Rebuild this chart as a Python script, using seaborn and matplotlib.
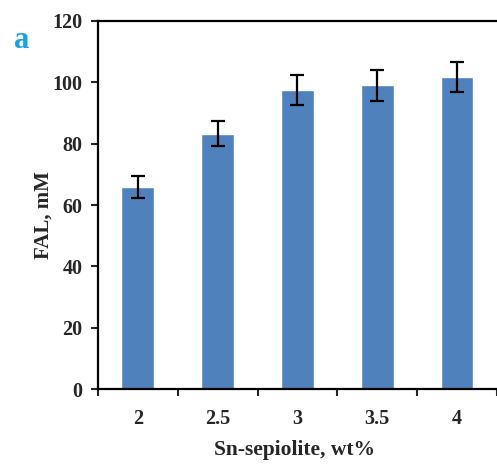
import matplotlib
matplotlib.use("Agg")
import matplotlib.pyplot as plt
import seaborn as sns
import pandas as pd

# Sn loading on sepiolite (wt%) and furfuryl alcohol yield (mM)
loadings = ["2", "2.5", "3", "3.5", "4"]
fal_mM = [65.8, 83.3, 97.5, 99.0, 101.7]
fal_err = [3.6, 4.1, 5.0, 5.0, 5.0]

sns.set_theme(style="white")
plt.rcParams["font.family"] = ["Liberation Serif", "DejaVu Serif"]
plt.rcParams["font.weight"] = "bold"

df = pd.DataFrame({"loading": loadings, "fal": fal_mM})

fig = plt.figure(figsize=(4.97, 4.66), dpi=100)
ax = fig.add_axes([0.197, 0.165, 0.803, 0.79])

sns.barplot(data=df, x="loading", y="fal", color="#4F81BD", saturation=1,
            width=0.41, errorbar=None, ax=ax)
ax.errorbar(range(len(loadings)), fal_mM, yerr=fal_err, fmt="none",
            ecolor="black", elinewidth=1.6, capsize=4.8, capthick=1.6)

ax.set_ylim(0, 120)
ax.set_xlim(-0.5, 4.5)
ax.set_yticks(range(0, 121, 20))
ax.tick_params(axis="y", which="major", left=True, length=5, width=1.5,
               labelsize=14.5, pad=6)
ax.tick_params(axis="x", which="major", bottom=False, labelsize=14.5, pad=8)
ax.set_xticks([i - 0.5 for i in range(len(loadings) + 1)], minor=True)
ax.tick_params(axis="x", which="minor", bottom=True, length=5, width=1.5,
               direction="out")
for lbl in ax.get_xticklabels() + ax.get_yticklabels():
    lbl.set_fontweight("bold")

for side in ["left", "bottom", "top"]:
    ax.spines[side].set_visible(True)
    ax.spines[side].set_color("black")
    ax.spines[side].set_linewidth(1.6)
ax.spines["right"].set_visible(False)

ax.set_xlabel("Sn-sepiolite, wt%", fontsize=15.5, fontweight="bold")
ax.set_ylabel("FAL, mM", fontsize=15, fontweight="bold")
ax.xaxis.set_label_coords(0.4925, -0.138)
ax.yaxis.set_label_coords(-0.11, 0.474)

fig.text(0.028, 0.897, "a", color="#1BA1E2", fontsize=22, fontweight="bold")

fig.savefig("out.png", dpi=100)
